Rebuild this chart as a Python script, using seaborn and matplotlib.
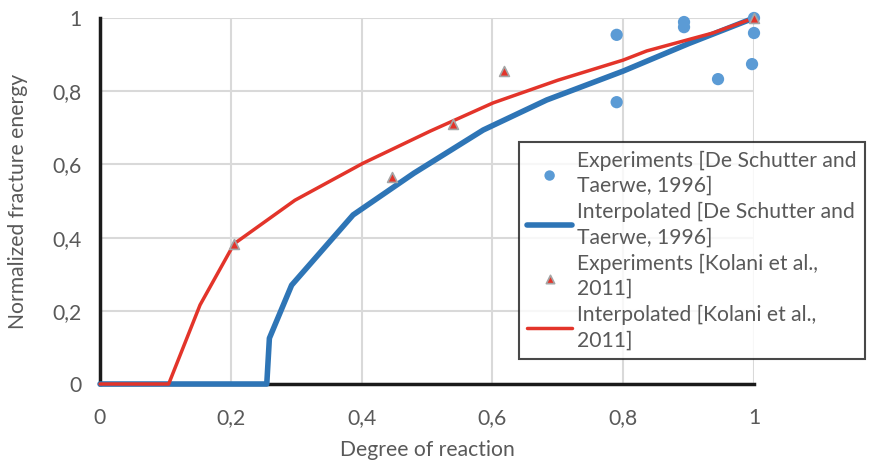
import matplotlib
matplotlib.use("Agg")
import matplotlib.pyplot as plt
import seaborn as sns
import pandas as pd

# Experimental points, De Schutter and Taerwe (1996)
ds_exp_x = [0.79, 0.79, 0.893, 0.893, 0.945, 1.0, 1.0, 0.997]
ds_exp_y = [0.954, 0.770, 0.989, 0.975, 0.833, 1.0, 0.959, 0.874]

# Interpolated curve, De Schutter and Taerwe (1996)
ds_int_x = [0.0, 0.255, 0.259, 0.293, 0.387, 0.48, 0.586, 0.683, 0.80, 0.90, 1.0]
ds_int_y = [0.0, 0.0, 0.125, 0.27, 0.462, 0.576, 0.694, 0.776, 0.855, 0.93, 1.0]

# Experimental points, Kolani et al. (2011)
ko_exp_x = [0.205, 0.446, 0.540, 0.618, 1.0]
ko_exp_y = [0.383, 0.566, 0.710, 0.855, 1.0]

# Interpolated curve, Kolani et al. (2011)
ko_int_x = [0.0, 0.105, 0.153, 0.205, 0.298, 0.402, 0.505, 0.601, 0.70, 0.80, 0.836, 0.937, 1.0]
ko_int_y = [0.0, 0.0, 0.216, 0.383, 0.502, 0.603, 0.691, 0.768, 0.83, 0.885, 0.91, 0.959, 1.0]

x_ticks = [0, 0.2, 0.4, 0.6, 0.8, 1.0]
x_tick_labels = ["0", "0,2", "0,4", "0,6", "0,8", "1"]
y_ticks = [0, 0.2, 0.4, 0.6, 0.8, 1.0]
y_tick_labels = ["0", "0,2", "0,4", "0,6", "0,8", "1"]

labels = [
    "Experiments [De Schutter and\nTaerwe, 1996]",
    "Interpolated [De Schutter and\nTaerwe, 1996]",
    "Experiments [Kolani et al.,\n2011]",
    "Interpolated [Kolani et al.,\n2011]",
]

sns.set_style("white")
plt.rcParams["font.family"] = ["Lato", "DejaVu Sans"]
grey = "#595959"
fs = 15.2

W, H = 870, 461
fig = plt.figure(figsize=(W / 100, H / 100), dpi=100)
ax = fig.add_axes([100 / W, (H - 384) / H, 654 / W, 366 / H])

ds_line = pd.DataFrame({"x": ds_int_x, "y": ds_int_y})
ko_line = pd.DataFrame({"x": ko_int_x, "y": ko_int_y})
ds_pts = pd.DataFrame({"x": ds_exp_x, "y": ds_exp_y})
ko_pts = pd.DataFrame({"x": ko_exp_x, "y": ko_exp_y})

sns.lineplot(data=ds_line, x="x", y="y", ax=ax, sort=False, estimator=None,
             color="#2e75b6", linewidth=4, label=labels[1], zorder=3,
             clip_on=False, legend=False)
sns.lineplot(data=ko_line, x="x", y="y", ax=ax, sort=False, estimator=None,
             color="#e3342a", linewidth=2.5, label=labels[3], zorder=4,
             clip_on=False, legend=False)
sns.scatterplot(data=ds_pts, x="x", y="y", ax=ax, color="#5b9bd5", s=78,
                edgecolor="none", marker="o", label=labels[0], zorder=5,
                clip_on=False, legend=False)
sns.scatterplot(data=ko_pts, x="x", y="y", ax=ax, color="#e3342a", s=50,
                edgecolor="#a5a5a5", linewidth=1.2, marker="^", label=labels[2],
                zorder=6, clip_on=False, legend=False)

ax.set_xlim(0, 1)
ax.set_ylim(0, 1)
ax.set_xticks(x_ticks)
ax.set_xticklabels(x_tick_labels)
ax.set_yticks(y_ticks)
ax.set_yticklabels(y_tick_labels)
ax.grid(True, color="#d9d9d9", linewidth=1.5)
ax.set_axisbelow(True)

for side in ["top", "right"]:
    ax.spines[side].set_visible(False)
for side in ["left", "bottom"]:
    ax.spines[side].set_color("#1a1a1a")
    ax.spines[side].set_linewidth(2.5)
    ax.spines[side].set_zorder(2)

ax.tick_params(axis="both", direction="inout", length=14, width=2.5,
               color="#1a1a1a", labelcolor=grey, labelsize=fs)
ax.tick_params(axis="x", pad=10)
ax.tick_params(axis="y", pad=6)

ax.set_xlabel("Degree of reaction", color=grey, fontsize=fs, labelpad=9)
ax.set_ylabel("Normalized fracture energy", color=grey, fontsize=fs, labelpad=18)

handles, lbls = [], []
for coll in ax.collections + ax.lines:
    if coll.get_label() in labels:
        handles.append(coll)
        lbls.append(coll.get_label())
order = [lbls.index(l) for l in labels]
leg = fig.legend([handles[i] for i in order], [lbls[i] for i in order],
                 loc="upper left", bbox_to_anchor=(519 / W, 1 - 142 / H),
                 bbox_transform=fig.transFigure, frameon=True, fancybox=False,
                 edgecolor="#1a1a1a", fontsize=fs, labelcolor=grey,
                 handlelength=2.1, handletextpad=0.25, borderpad=0.4,
                 labelspacing=0.3, borderaxespad=0, markerscale=0.85)
for t in leg.get_texts():
    t.set_linespacing(1.32)
leg.get_frame().set_linewidth(1.5)

fig.savefig("out.png", dpi=100)
